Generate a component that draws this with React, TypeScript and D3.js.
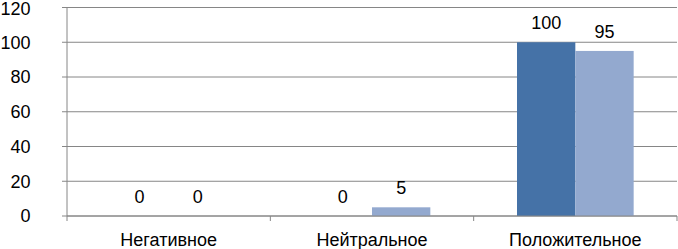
import React from 'react';
import * as d3 from 'd3';

const categories = ['Негативное', 'Нейтральное', 'Положительное'];
const seriesNames = ['Ряд 1', 'Ряд 2'];
const series1 = [0, 0, 100];
const series2 = [0, 5, 95];
const yTicks = [0, 20, 40, 60, 80, 100, 120];
const colors = ['#4572a7', '#93a9cf'];

const App = () => {
  const width = 678;
  const height = 249;
  const left = 67;
  const right = 677;
  const top = 7.5;
  const bottom = 216;
  const font = "'Liberation Sans', Arial, sans-serif";
  const fs = 18;

  const y = d3.scaleLinear().domain([0, 120]).range([bottom, top]);
  const x0 = d3.scaleBand().domain(categories).range([left, right]).padding(0);
  const x1 = d3.scaleBand().domain(seriesNames).range([0, x0.bandwidth()])
    .paddingInner(0).paddingOuter(0.743);

  const values = [series1, series2];
  const grid = '#868686';

  return (
    <svg width={width} height={height} style={{ position: 'absolute', left: 0, top: 0 }}>
      {/* gridlines + y labels */}
      {yTicks.map(t => (
        <g key={t}>
          <line x1={left - 5} x2={right} y1={y(t)} y2={y(t)} stroke={grid} strokeWidth={1} />
          <text x={30.5} y={Math.max(y(t), 9)} dy="0.36em" textAnchor="end" fontFamily={font} fontSize={fs} fill="#000">{t}</text>
        </g>
      ))}
      {/* bars */}
      {categories.map((c, i) => (
        <g key={c} transform={`translate(${x0(c)},0)`}>
          {seriesNames.map((s, j) => {
            const v = values[j][i];
            const bx = x1(s) as number;
            return (
              <g key={s}>
                {v > 0 && (
                  <rect x={bx} y={y(v)} width={x1.bandwidth()} height={y(0) - y(v)} fill={colors[j]} />
                )}
                <text x={bx + x1.bandwidth() / 2} y={y(v) - 13} textAnchor="middle"
                  fontFamily={font} fontSize={fs} fill="#000">{v}</text>
              </g>
            );
          })}
        </g>
      ))}
      {/* axes */}
      <line x1={left} x2={left} y1={top} y2={bottom} stroke={grid} strokeWidth={1} />
      <line x1={left} x2={right} y1={bottom} y2={bottom} stroke={grid} strokeWidth={1} />
      {[...categories.map(c => x0(c) as number), right].map((xv, i) => (
        <line key={i} x1={xv} x2={xv} y1={bottom} y2={bottom + 5} stroke={grid} strokeWidth={1} />
      ))}
      {categories.map(c => (
        <text key={c} x={(x0(c) as number) + x0.bandwidth() / 2} y={246} textAnchor="middle"
          fontFamily={font} fontSize={fs} fill="#000">{c}</text>
      ))}
    </svg>
  );
};

export default App;
